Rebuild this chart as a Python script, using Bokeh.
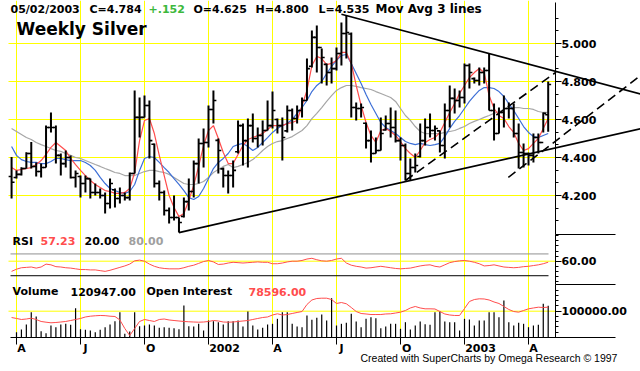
import math
from bokeh.plotting import figure
from bokeh.models import (Range1d, LinearAxis, FixedTicker, NumeralTickFormatter, Label,
                          CustomJSTickFormatter)
from bokeh.embed import file_html
from bokeh.resources import INLINE

# ---------------- data (weekly silver, week 0 = first week of April 2001) ----------------
weeks = list(range(-1, 109))

opens = [4.300, 4.295, 4.311, 4.342, 4.421, 4.353, 4.326, 4.347, 4.558, 4.558,
         4.411, 4.368, 4.400, 4.295, 4.300, 4.263, 4.289, 4.216, 4.216, 4.200,
         4.158, 4.230, 4.184, 4.200, 4.189, 4.316, 4.611, 4.611, 4.674, 4.470,
         4.263, 4.216, 4.121, 4.084, 4.084, 4.090, 4.168, 4.221, 4.368, 4.474,
         4.479, 4.653, 4.490, 4.340, 4.305, 4.305, 4.430, 4.568, 4.489, 4.568,
         4.500, 4.516, 4.542, 4.568, 4.600, 4.568, 4.540, 4.647, 4.605, 4.647,
         4.700, 4.880, 5.032, 4.979, 4.890, 4.847, 4.868, 4.947, 5.053, 5.050,
         4.663, 4.658, 4.580, 4.489, 4.421, 4.437, 4.545, 4.579, 4.558, 4.489,
         4.463, 4.316, 4.347, 4.405, 4.489, 4.558, 4.542, 4.540, 4.463, 4.647,
         4.711, 4.700, 4.716, 4.884, 4.815, 4.805, 4.847, 4.858, 4.647, 4.526,
         4.637, 4.658, 4.658, 4.526, 4.426, 4.421, 4.411, 4.505, 4.479, 4.625]
highs = [4.402, 4.332, 4.349, 4.428, 4.481, 4.374, 4.368, 4.568, 4.637, 4.568,
         4.421, 4.437, 4.411, 4.332, 4.305, 4.305, 4.289, 4.263, 4.237, 4.216,
         4.289, 4.237, 4.242, 4.216, 4.321, 4.753, 4.716, 4.726, 4.700, 4.474,
         4.279, 4.226, 4.137, 4.200, 4.084, 4.189, 4.289, 4.384, 4.500, 4.553,
         4.674, 4.753, 4.500, 4.347, 4.332, 4.384, 4.595, 4.579, 4.605, 4.632,
         4.558, 4.595, 4.700, 4.747, 4.605, 4.611, 4.674, 4.658, 4.674, 4.716,
         4.921, 5.068, 5.095, 4.974, 4.895, 4.926, 4.979, 5.111, 5.147, 5.058,
         4.689, 4.684, 4.584, 4.542, 4.505, 4.611, 4.621, 4.663, 4.647, 4.505,
         4.474, 4.395, 4.421, 4.579, 4.605, 4.632, 4.568, 4.542, 4.684, 4.779,
         4.763, 4.753, 4.895, 4.895, 4.821, 4.874, 4.874, 4.947, 4.684, 4.663,
         4.726, 4.689, 4.684, 4.579, 4.474, 4.426, 4.526, 4.526, 4.637, 4.800]
lows = [4.184, 4.289, 4.305, 4.342, 4.342, 4.300, 4.295, 4.347, 4.532, 4.368,
        4.305, 4.347, 4.289, 4.242, 4.189, 4.216, 4.184, 4.200, 4.184, 4.105,
        4.132, 4.137, 4.158, 4.174, 4.174, 4.316, 4.505, 4.611, 4.395, 4.242,
        4.174, 4.095, 4.053, 4.068, 4.005, 4.084, 4.121, 4.189, 4.263, 4.347,
        4.453, 4.579, 4.316, 4.242, 4.211, 4.242, 4.421, 4.358, 4.347, 4.479,
        4.453, 4.463, 4.542, 4.553, 4.526, 4.384, 4.532, 4.542, 4.579, 4.611,
        4.700, 4.874, 4.847, 4.789, 4.779, 4.789, 4.858, 4.884, 4.921, 4.611,
        4.595, 4.611, 4.447, 4.374, 4.421, 4.437, 4.542, 4.505, 4.479, 4.384,
        4.279, 4.279, 4.321, 4.400, 4.463, 4.505, 4.489, 4.426, 4.395, 4.558,
        4.632, 4.663, 4.684, 4.763, 4.789, 4.779, 4.789, 4.647, 4.489, 4.526,
        4.558, 4.605, 4.505, 4.342, 4.347, 4.358, 4.374, 4.421, 4.532, 4.535]
closes = [4.270, 4.311, 4.342, 4.421, 4.353, 4.326, 4.347, 4.558, 4.558, 4.411,
          4.368, 4.400, 4.295, 4.316, 4.263, 4.289, 4.216, 4.216, 4.200, 4.158,
          4.263, 4.184, 4.200, 4.189, 4.316, 4.611, 4.611, 4.674, 4.489, 4.263,
          4.216, 4.121, 4.084, 4.084, 4.058, 4.168, 4.221, 4.368, 4.474, 4.479,
          4.653, 4.700, 4.437, 4.305, 4.305, 4.332, 4.568, 4.489, 4.568, 4.500,
          4.516, 4.542, 4.568, 4.647, 4.568, 4.505, 4.647, 4.605, 4.647, 4.700,
          4.868, 5.032, 4.979, 4.926, 4.847, 4.868, 4.947, 5.053, 5.058, 4.663,
          4.658, 4.663, 4.489, 4.421, 4.437, 4.526, 4.579, 4.558, 4.489, 4.463,
          4.316, 4.347, 4.358, 4.489, 4.558, 4.542, 4.553, 4.463, 4.647, 4.711,
          4.700, 4.716, 4.884, 4.847, 4.805, 4.847, 4.858, 4.647, 4.526, 4.637,
          4.658, 4.658, 4.526, 4.426, 4.421, 4.411, 4.505, 4.479, 4.632, 4.784]

ma_fast = [4.347, 4.332, 4.337, 4.342, 4.347, 4.363, 4.384, 4.416, 4.453, 4.479,
           4.458, 4.437, 4.395, 4.363, 4.332, 4.305, 4.279, 4.258, 4.242, 4.226,
           4.221, 4.211, 4.211, 4.216, 4.237, 4.321, 4.489, 4.595, 4.605, 4.526,
           4.411, 4.305, 4.200, 4.137, 4.089, 4.105, 4.174, 4.253, 4.353, 4.463,
           4.542, 4.568, 4.500, 4.426, 4.368, 4.368, 4.416, 4.463, 4.495, 4.505,
           4.516, 4.526, 4.547, 4.568, 4.568, 4.568, 4.579, 4.584, 4.595, 4.674,
           4.753, 4.884, 4.932, 4.921, 4.889, 4.895, 4.911, 4.953, 4.953, 4.895,
           4.779, 4.674, 4.584, 4.516, 4.479, 4.542, 4.553, 4.537, 4.516, 4.484,
           4.447, 4.421, 4.400, 4.437, 4.479, 4.495, 4.505, 4.532, 4.584, 4.637,
           4.684, 4.737, 4.779, 4.821, 4.847, 4.868, 4.847, 4.726, 4.658, 4.621,
           4.605, 4.563, 4.532, 4.474, 4.437, 4.447, 4.474, 4.500, 4.553, 4.605]
ma_mid = [4.458, 4.411, 4.389, 4.379, 4.374, 4.374, 4.368, 4.368, 4.379, 4.395,
          4.395, 4.389, 4.384, 4.384, 4.384, 4.374, 4.358, 4.332, 4.295, 4.263,
          4.237, 4.226, 4.216, 4.211, 4.221, 4.258, 4.332, 4.395, 4.405, 4.400,
          4.374, 4.347, 4.321, 4.289, 4.258, 4.226, 4.189, 4.179, 4.195, 4.237,
          4.289, 4.342, 4.374, 4.395, 4.421, 4.458, 4.468, 4.474, 4.458, 4.437,
          4.453, 4.479, 4.505, 4.532, 4.553, 4.568, 4.579, 4.600, 4.632, 4.663,
          4.700, 4.747, 4.779, 4.800, 4.842, 4.879, 4.911, 4.937, 4.942, 4.895,
          4.842, 4.789, 4.732, 4.679, 4.632, 4.584, 4.558, 4.542, 4.526, 4.505,
          4.484, 4.474, 4.468, 4.474, 4.468, 4.463, 4.468, 4.474, 4.510, 4.553,
          4.590, 4.621, 4.658, 4.695, 4.726, 4.753, 4.768, 4.768, 4.763, 4.747,
          4.721, 4.684, 4.647, 4.605, 4.563, 4.532, 4.510, 4.505, 4.516, 4.526]
ma_slow = [4.553, 4.537, 4.521, 4.505, 4.495, 4.479, 4.468, 4.458, 4.447, 4.437,
           4.432, 4.421, 4.411, 4.400, 4.395, 4.384, 4.374, 4.363, 4.353, 4.342,
           4.332, 4.321, 4.316, 4.305, 4.305, 4.305, 4.316, 4.326, 4.332, 4.332,
           4.326, 4.321, 4.311, 4.295, 4.279, 4.263, 4.258, 4.258, 4.263, 4.274,
           4.295, 4.321, 4.337, 4.353, 4.363, 4.347, 4.353, 4.363, 4.374, 4.389,
           4.411, 4.437, 4.458, 4.474, 4.484, 4.489, 4.500, 4.510, 4.526, 4.542,
           4.568, 4.605, 4.632, 4.663, 4.695, 4.726, 4.753, 4.768, 4.779, 4.779,
           4.774, 4.768, 4.763, 4.758, 4.747, 4.737, 4.726, 4.716, 4.695, 4.658,
           4.621, 4.595, 4.563, 4.537, 4.526, 4.526, 4.526, 4.526, 4.532, 4.537,
           4.542, 4.553, 4.563, 4.579, 4.590, 4.600, 4.611, 4.621, 4.632, 4.642,
           4.653, 4.663, 4.663, 4.663, 4.658, 4.658, 4.653, 4.642, 4.637, 4.637]

rsi = [32, 38, 42, 43, 44, 41, 44, 52, 50, 45,
       44, 42, 41, 39, 37, 37, 36, 36, 34, 32,
       35, 39, 43, 47, 52, 61, 63, 60, 52, 46,
       42, 40, 39, 39, 39, 42, 46, 49, 54, 59,
       62, 58, 51, 52, 55, 57, 56, 55, 56, 57,
       58, 57, 57, 53, 53, 55, 58, 60, 60, 62,
       66, 68, 64, 61, 60, 62, 66, 68, 55, 49,
       46, 44, 41, 42, 44, 46, 44, 42, 40, 39,
       40, 41, 44, 47, 49, 50, 46, 44, 50, 56,
       59, 61, 62, 60, 57, 53, 47, 48, 50, 47,
       44, 43, 42, 43, 45, 46, 48, 50, 53, 57.23]

volume = [None, 20150, 30400, 49400, 96200, 79800, 24000, 16300, 45600, 39200,
          49400, 52100, 48300, 111400, 31600, 29300, 26600, 20200, 29300, 39200,
          49400, 62000, 96200, 14100, 22800, 96200, 43000, 45600, 49400, 45600,
          36900, 39200, 36900, 35400, 31600, 121700, 43000, 41800, 52100, 26600,
          64600, 62000, 58200, 49400, 62000, 62000, 64600, 41800, 98900, 45600,
          30400, 36900, 49400, 52100, 71100, 96200, 96200, 52100, 41800, 39200,
          83600, 67300, 74900, 87400, 64600, 149400, 45600, 52100, 55900, 90100,
          60800, 39200, 71100, 77200, 73400, 35400, 41800, 52100, 52100, 33100,
          58200, 30400, 45600, 60800, 50600, 48300, 96200, 98900, 60800, 58200,
          58200, 26600, 71100, 68400, 45600, 64600, 64600, 96200, 96200, 77200,
          140700, 58200, 45600, 55900, 52100, 39200, 45600, 48300, 128100, 120947]

open_interest = [61400, 59800, 58100, 58900, 60300, 58100, 54800, 53600, 52600, 53100,
                 53900, 54800, 56400, 58100, 59800, 62300, 63600, 64300, 64800, 64500,
                 63600, 63100, 57300, 43100, 31400, 43100, 54800, 58100, 56400, 54800,
                 58100, 58900, 57300, 56400, 55600, 54800, 54300, 53900, 53600, 53900,
                 54800, 56400, 55600, 53900, 53600, 53900, 54800, 55600, 56400, 58100,
                 59800, 61400, 62300, 65600, 67600, 65600, 66400, 68100, 69800, 71400,
                 83100, 90600, 93100, 93600, 93600, 91400, 84800, 86400, 84300, 78100,
                 71400, 68100, 67300, 66400, 66400, 66400, 67300, 67600, 68900, 70300,
                 73100, 77300, 79800, 77300, 75900, 75900, 75600, 71400, 67300, 65600,
                 64800, 64800, 76400, 88100, 91400, 92600, 92300, 90600, 87300, 84800,
                 79800, 74800, 71400, 70300, 73100, 75900, 77300, 78600, 78100, 78596]

# trend lines: (week, price) end points
trend_upper_w, trend_upper_p = [66, 127], [5.154, 4.733]
trend_lower_w, trend_lower_p = [33, 127], [4.005, 4.553]
chan1_w, chan1_p = [79, 109.6], [4.279, 4.849]
chan2_w, chan2_p = [99.9, 127], [4.295, 4.836]

grid_weeks = [0, 13, 26, 39, 52, 65, 78, 91, 104]
month_labels = ["A", "J", "O", "2002", "A", "J", "O", "2003", "A"]
month_label_pos = [1.0, 14.0, 27.25, 42.25, 53.0, 66.0, 79.25, 94.25, 105.0]
price_ticks = [4.2, 4.4, 4.6, 4.8, 5.0]
price_minor = [4.0667, 4.1333, 4.2667, 4.3333, 4.4667, 4.5333, 4.6667, 4.7333,
               4.8667, 4.9333, 5.0667, 5.1333]
rsi_ticks = [60]
rsi_minor = [4, 18, 32, 46, 74, 88, 102, 116, 130]
vol_ticks = [100000]
vol_minor = [20000, 40000, 60000, 80000, 120000, 140000, 160000, 180000]

# ---------------- layout helpers (reference pixel -> data coordinates) ----------------
PXW = 64.0 / 13.0
def wx(xr):
    return (xr - 16.0) / PXW
def py(yr):
    return 5.0 - (yr - 43.0) / 190.0
def ry(yr):
    return 60.0 + (260.7 - yr) / 0.3633
def vy(yr):
    return (337.0 - yr) / 26.3 * 100000.0
def oy(yr):
    return 78596.0 + (306.7 - yr) * 1667.0

W, H = 640, 371
YELLOW = "#ffff00"
RED = "#ff4d4d"
FONT = "DejaVu Sans"

p = figure(width=W, height=H, x_range=Range1d(wx(0), wx(W)),
           y_range=Range1d(py(H), py(0)), output_backend="svg", toolbar_location=None,
           x_axis_location=None, y_axis_location=None, min_border=0,
           outline_line_color=None, background_fill_color="white", border_fill_color="white")
p.xgrid.visible = False
p.ygrid.visible = False
p.extra_y_ranges = {"rsi": Range1d(ry(H), ry(0)), "vol": Range1d(vy(H), vy(0)),
                    "oi": Range1d(oy(H), oy(0))}

# yellow grid
p.segment(x0=grid_weeks, y0=py(0), x1=grid_weeks, y1=py(337), line_color=YELLOW, line_width=1)
p.segment(x0=wx(8), y0=price_ticks, x1=wx(555), y1=price_ticks, line_color=YELLOW, line_width=1)
p.segment(x0=wx(8), y0=rsi_ticks, x1=wx(555), y1=rsi_ticks, line_color=YELLOW, line_width=1,
          y_range_name="rsi")
p.segment(x0=wx(8), y0=vol_ticks, x1=wx(555), y1=vol_ticks, line_color=YELLOW, line_width=1,
          y_range_name="vol")

# RSI reference levels
p.segment(x0=wx(10), y0=80, x1=wx(548), y1=80, line_color="#909090", line_width=1, y_range_name="rsi")
p.segment(x0=wx(10), y0=20, x1=wx(548), y1=20, line_color="black", line_width=1, y_range_name="rsi")

# panel separators in the axis area
p.segment(x0=wx(555), y0=[py(234), py(284)], x1=wx(615), y1=[py(234), py(284)],
          line_color="black", line_width=1)

# moving averages
p.line(weeks, ma_slow, line_color="#a6a6a6", line_width=1.2)
p.line(weeks, ma_mid, line_color="#3d6fd6", line_width=1.2)
p.line(weeks, ma_fast, line_color=RED, line_width=1.2)

# OHLC bars
p.segment(x0=weeks, y0=lows, x1=weeks, y1=highs, line_color="black", line_width=2)
p.segment(x0=[w - 0.6 for w in weeks], y0=opens, x1=weeks, y1=opens, line_color="black", line_width=1.6)
p.segment(x0=weeks, y0=closes, x1=[w + 0.6 for w in weeks], y1=closes, line_color="black", line_width=1.6)

# trend lines
p.line(trend_upper_w, trend_upper_p, line_color="black", line_width=1.7)
p.line(trend_lower_w, trend_lower_p, line_color="black", line_width=1.7)
p.line(chan1_w, chan1_p, line_color="black", line_width=1.6, line_dash="9 5")
p.line(chan2_w, chan2_p, line_color="black", line_width=1.6, line_dash="9 5")

# RSI
p.line(weeks, rsi, line_color=RED, line_width=1, y_range_name="rsi")

# volume and open interest
vol_vals = [float("nan") if v is None else v for v in volume]
p.segment(x0=weeks, y0=0, x1=weeks, y1=vol_vals, line_color="black", line_width=1.2,
          y_range_name="vol")
p.line(weeks, open_interest, line_color=RED, line_width=1, y_range_name="oi")

# ---------------- axes ----------------
def style_vaxis(ax):
    ax.axis_line_color = "black"
    ax.axis_line_width = 1
    ax.major_tick_out = 6
    ax.major_tick_in = 0
    ax.minor_tick_out = 3
    ax.minor_tick_in = 0
    ax.major_tick_line_color = "black"
    ax.minor_tick_line_color = "black"
    ax.major_label_standoff = 0
    ax.major_label_text_font = FONT
    ax.major_label_text_font_style = "bold"
    ax.major_label_text_font_size = "11px"
    ax.major_label_text_color = "black"

price_axis = LinearAxis(fixed_location=wx(555),
                        ticker=FixedTicker(ticks=price_ticks, minor_ticks=price_minor),
                        formatter=NumeralTickFormatter(format="0.000"),
                        bounds=(py(234), py(2)))
style_vaxis(price_axis)
p.add_layout(price_axis, "right")

rsi_axis = LinearAxis(y_range_name="rsi", fixed_location=wx(555),
                      ticker=FixedTicker(ticks=rsi_ticks, minor_ticks=rsi_minor),
                      formatter=NumeralTickFormatter(format="0.00"),
                      bounds=(ry(284), ry(234)))
style_vaxis(rsi_axis)
p.add_layout(rsi_axis, "right")

vol_axis = LinearAxis(y_range_name="vol", fixed_location=wx(555),
                      ticker=FixedTicker(ticks=vol_ticks, minor_ticks=vol_minor),
                      formatter=NumeralTickFormatter(format="0.00"),
                      bounds=(0, vy(284)))
style_vaxis(vol_axis)
p.add_layout(vol_axis, "right")

tick_axis = LinearAxis(y_range_name="vol", fixed_location=0,
                       ticker=FixedTicker(ticks=grid_weeks, minor_ticks=[]),
                       bounds=(wx(10), wx(615)))
tick_axis.axis_line_color = "black"
tick_axis.axis_line_width = 1
tick_axis.major_tick_out = 7
tick_axis.major_tick_in = 0
tick_axis.major_tick_line_width = 1
tick_axis.minor_tick_out = 0
tick_axis.major_label_text_color = None
p.add_layout(tick_axis, "below")

label_axis = LinearAxis(y_range_name="vol", fixed_location=0,
                        ticker=FixedTicker(ticks=month_label_pos, minor_ticks=[]),
                        formatter=CustomJSTickFormatter(
                            args=dict(pos=month_label_pos, txt=month_labels),
                            code="""
let out = "";
for (let i = 0; i < pos.length; i++) { if (Math.abs(pos[i] - tick) < 1e-6) { out = txt[i]; } }
return out;
"""))
label_axis.axis_line_color = None
label_axis.major_tick_out = 0
label_axis.major_tick_in = 0
label_axis.minor_tick_out = 0
label_axis.major_label_standoff = 4
label_axis.major_label_text_font = FONT
label_axis.major_label_text_font_style = "bold"
label_axis.major_label_text_font_size = "11px"
label_axis.major_label_text_color = "black"
p.add_layout(label_axis, "below")

# ---------------- texts ----------------
def lab(text, xr, yr, color="black", size="11px", style="bold", font=FONT):
    p.add_layout(Label(x=wx(xr), y=py(yr), text=text, text_color=color, text_font=font,
                       text_font_size=size, text_font_style=style,
                       text_baseline="middle", text_align="left"))

TOP = 8.5
lab("05/02/2003", 10, TOP)
lab("C=4.784", 89, TOP)
lab("+.152", 148, TOP, color="#3cb83c")
lab("O=4.625", 193, TOP)
lab("H=4.800", 255, TOP)
lab("L=4.535", 318, TOP)
lab("Mov Avg 3 lines", 375, TOP, size="12px")
lab("Weekly  Silver", 16, 28.5, size="17px")

lab("RSI", 12, 240.7)
lab("57.23", 40, 240.7, color=RED)
lab("20.00", 84, 240.7)
lab("80.00", 128, 240.7, color="#a0a0a0")

lab("Volume", 12, 291)
lab("120947.00", 70, 291)
lab("Open Interest", 146, 291)
lab("78596.00", 248, 291, color=RED)

lab("Created with SuperCharts by Omega Research \u00a9 1997", 360, 357.5, size="10.5px",
    style="normal", font="Liberation Sans")

open("out.html", "w").write(file_html(p, INLINE))
